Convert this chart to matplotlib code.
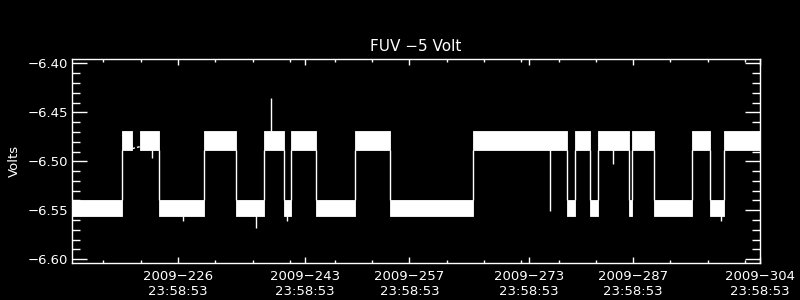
import matplotlib
matplotlib.use("Agg")
import matplotlib.pyplot as plt
from matplotlib.ticker import MultipleLocator, FixedLocator, FuncFormatter

# ---- data (time in day-of-year 2009, fractional) ----
seg_bounds = [212.79, 219.53, 220.87, 221.91, 224.49, 230.52, 234.81, 238.57,
              241.25, 242.18, 245.53, 250.76, 255.45, 266.58, 279.13, 280.21,
              282.26, 283.25, 287.48, 287.80, 290.83, 295.85, 298.26, 300.22,
              305.00]
seg_kind = ["L", "H", "G", "H", "L", "H", "L", "H", "L", "H", "L", "H", "L",
            "H", "L", "H", "L", "H", "L", "H", "L", "H", "L", "H"]

# voltage band limits for the two telemetry states
high_band = [-6.4885, -6.4691]
low_band = [-6.5555, -6.5395]

# isolated excursions
spike_t = [223.51, 227.67, 237.45, 239.50, 241.61, 276.86, 285.30, 299.77]
spike_v = [-6.497, -6.561, -6.568, -6.435, -6.561, -6.5505, -6.503, -6.561]

# data gap with interpolated line
gap_t = [220.87, 221.91]
gap_v = [-6.487, -6.485]

# axis labels
major_days = [226, 243, 257, 273, 287, 304]
minor_days = [216, 221, 231, 236, 241, 247, 252, 262, 267, 272, 277, 282,
              292, 297, 302]
time_of_day = "23:58:53"
day_frac = (23 * 3600 + 58 * 60 + 53) / 86400.0

title = "FUV \u22125 Volt"
ylabel = "Volts"

# ---- figure ----
fig = plt.figure(figsize=(8, 3), dpi=100, facecolor="black")
ax = fig.add_axes([0.09, 0.1233, 0.86, 0.68], facecolor="black")

bands = {"H": high_band, "L": low_band}
for k, t0, t1 in zip(seg_kind, seg_bounds[:-1], seg_bounds[1:]):
    if k in bands:
        lo, hi = bands[k]
        ax.fill_between([t0, t1], [lo, lo], [hi, hi], color="white",
                        linewidth=0.6, edgecolor="white")

# vertical connectors at transitions
for i in range(1, len(seg_kind)):
    a, b = seg_kind[i - 1], seg_kind[i]
    if {a, b} == {"H", "L"}:
        ax.vlines(seg_bounds[i], low_band[1], high_band[0], color="white", lw=1)

# gap line
ax.plot(gap_t, gap_v, color="white", lw=1, ls=(0, (2, 1.5)))

# spikes
for t, v in zip(spike_t, spike_v):
    idx = max(i for i in range(len(seg_kind)) if seg_bounds[i] <= t)
    lo, hi = bands.get(seg_kind[idx], high_band)
    base = hi if v > hi else lo
    ax.vlines(t, base, v, color="white", lw=1)

# ---- axes styling ----
ax.set_xlim(212.79, 304 + day_frac)
ax.set_ylim(-6.6038, -6.3956)

for sp in ax.spines.values():
    sp.set_color("white")
    sp.set_linewidth(1)

ax.xaxis.set_major_locator(FixedLocator([d + day_frac for d in major_days]))
ax.xaxis.set_minor_locator(FixedLocator([d + day_frac for d in minor_days]))
ax.set_xticklabels(["2009\u2212%d\n%s" % (d, time_of_day) for d in major_days])

ax.yaxis.set_major_locator(MultipleLocator(0.05))
ax.yaxis.set_minor_locator(MultipleLocator(0.01))
ax.yaxis.set_major_formatter(FuncFormatter(lambda v, p: ("%.2f" % v).replace("-", "\u2212")))

ax.tick_params(axis="both", which="both", direction="in", colors="white",
               top=True, right=True, labelsize=9.5)
ax.tick_params(axis="y", which="major", length=10.5, width=1, pad=3)
ax.tick_params(axis="y", which="minor", length=5.5, width=1)
ax.tick_params(axis="x", which="major", length=4.5, width=1, pad=5)
ax.tick_params(axis="x", which="minor", length=2.3, width=1)
for lab in ax.get_xticklabels():
    lab.set_linespacing(1.25)

ax.set_title(title, color="white", fontsize=11, pad=6)
ax.set_ylabel(ylabel, color="white", fontsize=9.5, labelpad=10)
ax.yaxis.set_label_coords(-0.075, 0.5)

fig.savefig("out.png", dpi=100, facecolor="black")
